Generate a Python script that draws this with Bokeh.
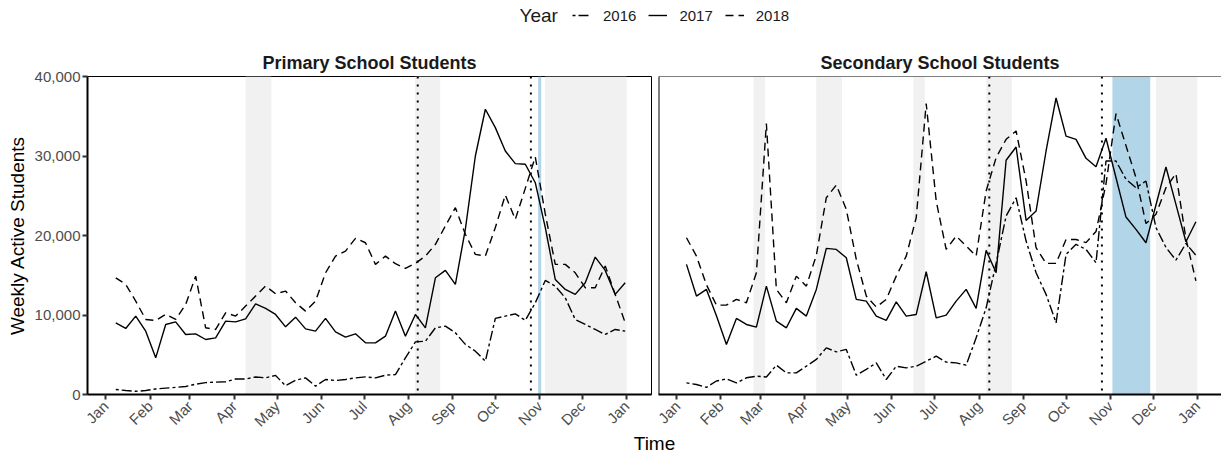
import pandas as pd
from bokeh.plotting import figure
from bokeh.models import (Range1d, DatetimeTickFormatter, FixedTicker, NumeralTickFormatter,
                          Span, Legend, LegendItem, Label)
from bokeh.layouts import column, row
from bokeh.embed import file_html
from bokeh.resources import INLINE

# ---------------- data ----------------
weeks = pd.date_range("2017-01-08", periods=52, freq="7D")
month_ticks = pd.date_range("2017-01-01", "2018-01-01", freq="MS")
years = ["2016", "2017", "2018"]
y_ticks = [0, 10000, 20000, 30000, 40000]

prim_2016 = [630, 500, 400, 500, 700, 800, 900, 1000, 1300, 1500, 1550, 1600, 1950, 1950, 2200, 2100,
             2400, 1100, 1800, 2090, 1050, 1890, 1760, 1890, 2090, 2220, 2090, 2430, 2510, 4610, 6620,
             6700, 8390, 8600, 7760, 6300, 5450, 4190, 9570, 9860, 10150, 9320, 11530, 14350, 13630,
             12170, 9440, 8810, 8180, 7550, 8180, 7970]
prim_2017 = [9015, 8310, 9860, 7970, 4610, 8810, 9140, 7550, 7630, 6920, 7130, 9230, 9140, 9520, 11410,
             10830, 10070, 8510, 9730, 8260, 7970, 9570, 7880, 7215, 7630, 6500, 6500, 7340, 10490, 7340,
             10070, 8390, 14680, 15610, 13850, 20800, 30000, 35880, 33570, 30630, 29035, 28960, 26640,
             20980, 14480, 13220, 12590, 14050, 17290, 15610, 12590, 14050]
prim_2018 = [14680, 13850, 11750, 9440, 9320, 10070, 9440, 11330, 14890, 8390, 8180, 10280, 9860, 11120,
             12380, 13640, 12670, 13010, 11540, 10490, 11750, 15300, 17410, 18040, 19640, 19090, 16370,
             17410, 16450, 15870, 16500, 17410, 18890, 21200, 23500, 20150, 17620, 17410, 21000, 25090,
             22030, 25930, 29890, 22700, 16370, 16370, 15310, 13430, 13430, 16160, 12590, 9015]

sec_2016 = [1460, 1260, 900, 1700, 1960, 1450, 2100, 2300, 2200, 3690, 2720, 2720, 3560, 4410, 5870,
            5360, 5670, 2430, 3150, 3980, 1890, 3560, 3350, 3560, 4190, 4820, 4070, 3980, 3690, 7130,
            10900, 16500, 22450, 24750, 19300, 15310, 12590, 9020, 17630, 18890, 18250, 16570, 29370,
            29370, 27070, 26010, 26850, 21000, 18500, 16900, 19000, 17500]
sec_2017 = [16370, 12380, 13220, 9900, 6300, 9570, 8810, 8470, 13630, 9230, 8390, 10830, 9860, 13220,
            18380, 18250, 17200, 11960, 11750, 9860, 9320, 11660, 9860, 10070, 15440, 9640, 9980, 11750,
            13220, 10830, 18130, 15310, 29460, 31130, 21900, 23080, 30630, 37300, 32500, 32100, 29710,
            28650, 32230, 27270, 22320, 20770, 19090, 23830, 28620, 23920, 19210, 21730]
sec_2018 = [19720, 17410, 13800, 11240, 11240, 11960, 11540, 15310, 34070, 13220, 11540, 14890, 13630,
            17500, 24750, 26350, 23290, 17000, 12400, 11000, 11960, 14890, 17410, 22240, 36590, 24340,
            18250, 19930, 18670, 17410, 25600, 29790, 32100, 33150, 26860, 18460, 16490, 16490, 19510,
            19500, 19100, 20500, 26500, 35330, 31300, 27270, 21500, 22660, 26010, 27780, 19600, 14300]

# holiday shading (grey), special period (blue), term markers (dotted)
prim_grey_start = ["2017-04-09 00:00", "2017-08-05 18:00", "2017-11-04 18:00"]
prim_grey_end = ["2017-04-27 00:00", "2017-08-23 08:00", "2018-01-01 00:00"]
prim_blue_start = ["2017-10-31 00:00"]
prim_blue_end = ["2017-11-02 04:00"]
prim_dotted = ["2017-08-07 15:00", "2017-10-25 22:00"]

sec_grey_start = ["2017-02-24 00:00", "2017-04-09 00:00", "2017-06-16 00:00", "2017-08-06 00:00", "2017-12-03 00:00"]
sec_grey_end = ["2017-03-04 00:00", "2017-04-27 00:00", "2017-06-24 00:00", "2017-08-24 00:00", "2018-01-01 00:00"]
sec_blue_start = ["2017-11-02 12:00"]
sec_blue_end = ["2017-11-29 00:00"]
sec_dotted = ["2017-08-08 05:00", "2017-10-26 03:00"]

# ---------------- style ----------------
FONT = "Liberation Sans"
GREY_FILL = "#F0F1F0"
BLUE_FILL = "#B3D5E8"
DASHES = {"2016": "3 3 10 3", "2017": "solid", "2018": "8 5"}
LW = 1.4
px_per_day = 1.427
JAN1 = pd.Timestamp("2017-01-01")


def ms(ts):
    return pd.Timestamp(ts).value / 1e6


def to_dt(lst):
    return [pd.Timestamp(s) for s in lst]


def make_panel(title, series, greys, blues, dotted, first, frame_w, lead_days):
    x_start = JAN1 - pd.Timedelta(days=lead_days)
    x_end = x_start + pd.Timedelta(days=frame_w / px_per_day)
    p = figure(x_axis_type="datetime", frame_width=frame_w, frame_height=318,
               x_range=Range1d(x_start, x_end), y_range=Range1d(0, 40000),
               output_backend="svg", toolbar_location=None,
               min_border_left=87 if first else 4, min_border_right=3 if first else 0,
               min_border_top=46, min_border_bottom=44, title=title)
    p.title.align = "center"
    p.title.text_font = FONT
    p.title.text_font_size = "18px"
    p.title.text_font_style = "bold"
    p.title.text_color = "#1A1A1A"
    p.title.standoff = 8
    p.xgrid.visible = False
    p.ygrid.visible = False
    p.background_fill_color = "white"
    p.border_fill_color = "white"

    gs, ge = greys
    p.quad(left=to_dt(gs), right=to_dt(ge), bottom=0, top=40000,
           fill_color=GREY_FILL, line_color=None)
    bs, be = blues
    p.quad(left=to_dt(bs), right=to_dt(be), bottom=0, top=40000,
           fill_color=BLUE_FILL, line_color=None)
    for d in dotted:
        p.add_layout(Span(location=ms(d), dimension="height", line_color="black",
                          line_width=2, line_dash="2 6"))

    for yr, vals in zip(years, series):
        p.line(weeks, vals, line_color="black", line_width=LW, line_dash=DASHES[yr])

    xa = p.below[0]
    xa.ticker = FixedTicker(ticks=[ms(t) for t in month_ticks])
    xa.formatter = DatetimeTickFormatter(days="%b", months="%b", years="%b")
    xa.major_label_orientation = 0.785398
    xa.major_label_text_font = FONT
    xa.major_label_text_font_size = "15px"
    xa.major_label_text_color = "#4D4D4D"
    xa.axis_line_color = "black"
    xa.axis_line_width = 2
    xa.major_tick_line_color = "#333333"
    xa.major_tick_line_width = 2
    xa.major_tick_out = 5
    xa.major_tick_in = 0
    xa.minor_tick_line_color = None
    xa.major_label_standoff = 4

    if first:
        p.outline_line_color = "black"
        p.outline_line_width = 1
        ya = p.left[0]
        ya.axis_line_color = "black"
        ya.axis_line_width = 2
        ya.minor_tick_line_color = None
        ya.ticker = FixedTicker(ticks=y_ticks)
        ya.formatter = NumeralTickFormatter(format="0,0")
        ya.major_label_text_font = FONT
        ya.major_label_text_font_size = "15px"
        ya.major_label_text_color = "#4D4D4D"
        ya.major_tick_line_color = "#333333"
        ya.major_tick_line_width = 2
        ya.major_tick_out = 5
        ya.major_tick_in = 0
        ya.major_label_standoff = 2
        ya.axis_label = "Weekly Active Students"
        ya.axis_label_text_font = FONT
        ya.axis_label_text_font_size = "19px"
        ya.axis_label_text_font_style = "normal"
        ya.axis_label_text_color = "black"
        ya.axis_label_standoff = 4
    else:
        # panel is cut at the right edge: draw only the top border and the left axis line
        p.outline_line_color = None
        p.yaxis.visible = False
        p.add_layout(Span(location=40000, dimension="width", line_color="black", line_width=1))
        p.add_layout(Span(location=ms(x_start), dimension="height", line_color="black", line_width=2))
    return p


p1 = make_panel("Primary School Students", [prim_2016, prim_2017, prim_2018],
                (prim_grey_start, prim_grey_end), (prim_blue_start, prim_blue_end), prim_dotted,
                True, 564, 12.8)
p2 = make_panel("Secondary School Students", [sec_2016, sec_2017, sec_2018],
                (sec_grey_start, sec_grey_end), (sec_blue_start, sec_blue_end), sec_dotted,
                False, 563, 12.6)

# ---------------- legend strip ----------------
W = 1221
pl = figure(width=W, height=30, x_range=Range1d(0, W), y_range=Range1d(0, 30),
            x_axis_location=None, y_axis_location=None, min_border=0,
            output_backend="svg", toolbar_location=None)
pl.xgrid.visible = False
pl.ygrid.visible = False
pl.outline_line_color = None
items = []
for yr in years:
    r = pl.line([-200, -100], [-50, -50], line_color="black", line_width=LW, line_dash=DASHES[yr])
    items.append(LegendItem(label=yr, renderers=[r]))
leg = Legend(items=items, orientation="horizontal", location=(572, 5), glyph_width=19,
             glyph_height=20, label_height=20, label_standoff=12, spacing=12, padding=0, margin=0,
             border_line_color=None, background_fill_alpha=0, label_text_font=FONT,
             label_text_font_size="15px", label_text_color="#1A1A1A")
pl.add_layout(leg)
pl.add_layout(Label(x=519, y=15, text="Year", text_font=FONT, text_font_size="19px",
                    text_baseline="middle", text_color="#1A1A1A"))

# ---------------- bottom axis title (pulled up over the blank strip under the tick labels) ----------------
pt = figure(width=W, height=26, x_range=Range1d(0, W), y_range=Range1d(0, 26),
            x_axis_location=None, y_axis_location=None, min_border=0,
            output_backend="svg", toolbar_location=None)
pt.xgrid.visible = False
pt.ygrid.visible = False
pt.outline_line_color = None
pt.background_fill_color = None
pt.border_fill_color = None
pt.styles = {"margin-top": "-12px"}
pt.add_layout(Label(x=654, y=9, text="Time", text_font=FONT, text_font_size="19px",
                    text_align="center", text_baseline="alphabetic", text_color="black"))

layout = column(pl, row(p1, p2), pt)
open("out.html", "w").write(file_html(layout, INLINE))
